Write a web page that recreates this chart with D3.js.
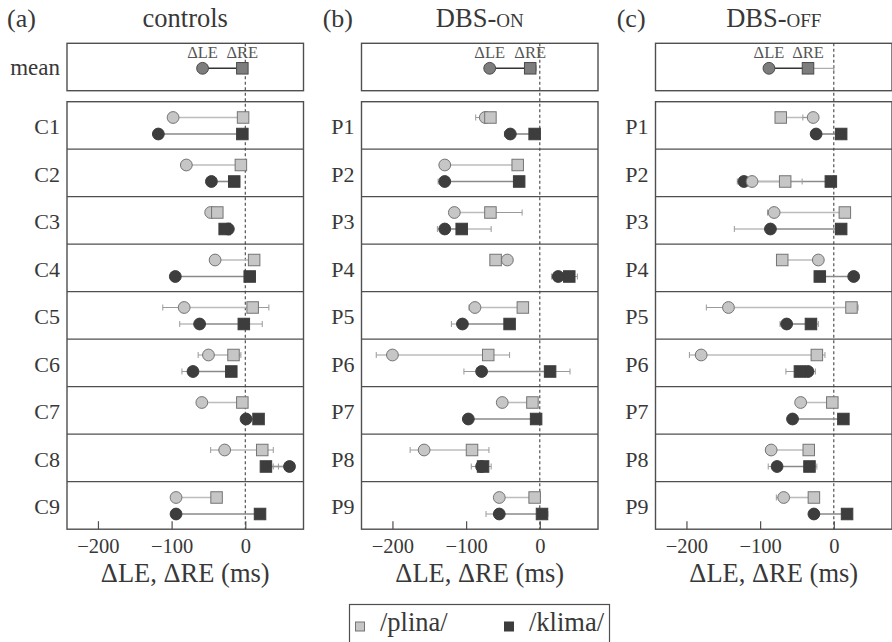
<!DOCTYPE html>
<html><head><meta charset="utf-8">
<script src="https://cdn.jsdelivr.net/npm/d3@7"></script>
<style>
body{margin:0;background:#fff}
svg{display:block}
svg text{font-family:"Liberation Serif","DejaVu Serif","Noto Serif",serif !important;fill:#383838}
</style>
</head><body>
<svg id="chart" width="892" height="642"></svg>
<script>
// ---------------- DATA ----------------
const panelTags = ["(a)", "(b)", "(c)"];
const panelTitleMain = ["controls", "DBS-", "DBS-"];
const panelTitleSmall = ["", "ON", "OFF"];
const controlSubjects = ["C1","C2","C3","C4","C5","C6","C7","C8","C9"];
const patientSubjects = ["P1","P2","P3","P4","P5","P6","P7","P8","P9"];
const tickValues = [-200, -100, 0];
const xDomain = [-242, 79];
const seriesNames = ["/plina/", "/klima/"];

// means: [ΔLE, ΔRE]; ΔLE errors extend left, ΔRE errors extend right
const meanLE = [-58, -68, -88];
const meanRE = [-4, -13, -35];
const meanLEerr = [2, 3, 3];
const meanREerr = [3, 8, 35];

// controls
const ctrlPlinaLE    = [-98, -80, -47, -41, -83, -50, -59, -28, -94];
const ctrlPlinaLEerr = [3, 3, 3, 3, 29, 14, 3, 19, 3];
const ctrlPlinaRE    = [-3, -6, -38, 12, 10, -16, -4, 23, -39];
const ctrlPlinaREerr = [3, 3, 3, 3, 22, 10, 3, 15, 5];
const ctrlKlimaLE    = [-118, -46, -23, -95, -62, -71, 1, 60, -94];
const ctrlKlimaLEerr = [5, 3, 3, 3, 27, 15, 3, 22, 4];
const ctrlKlimaRE    = [-4, -15, -28, 6, -2, -19, 18, 28, 20];
const ctrlKlimaREerr = [6, 3, 3, 4, 25, 3, 3, 17, 3];

// DBS-on
const onPlinaLE    = [-74, -129, -116, -44, -88, -200, -51, -157, -55];
const onPlinaLEerr = [13, 3, 3, 3, 8, 22, 3, 19, 3];
const onPlinaRE    = [-67, -30, -67, -60, -23, -70, -10, -92, -7];
const onPlinaREerr = [3, 3, 43, 3, 3, 29, 3, 23, 3];
const onKlimaLE    = [-40, -129, -129, 25, -105, -79, -97, -79, -55];
const onKlimaLEerr = [8, 9, 10, 9, 15, 24, 3, 14, 18];
const onKlimaRE    = [-7, -28, -106, 40, -41, 14, -5, -77, 3];
const onKlimaREerr = [3, 3, 40, 11, 3, 27, 3, 11, 8];

// DBS-off
const offPlinaLE    = [-28, -111, -81, -21, -143, -180, -45, -85, -68];
const offPlinaLEerr = [14, 3, 9, 3, 30, 16, 3, 7, 10];
const offPlinaRE    = [-72, -66, 15, -70, 24, -23, -2, -34, -27];
const offPlinaREerr = [3, 23, 3, 3, 9, 11, 3, 3, 3];
const offKlimaLE    = [-24, -122, -86, 27, -64, -35, -56, -77, -27];
const offKlimaLEerr = [3, 9, 49, 3, 9, 30, 3, 12, 3];
const offKlimaRE    = [10, -4, 10, -19, -31, -46, 13, -33, 18];
const offKlimaREerr = [3, 3, 3, 3, 10, 21, 3, 10, 3];

// lane each /plina/ row sits on (P2 in DBS-off shares the /klima/ lane)
const ctrlPlinaLane = ["upper","upper","upper","upper","upper","upper","upper","upper","upper"];
const onPlinaLane   = ["upper","upper","upper","upper","upper","upper","upper","upper","upper"];
const offPlinaLane  = ["upper","lower","upper","upper","upper","upper","upper","upper","upper"];

// ---------------- BUILD ----------------
const panels = [
  {subjects: controlSubjects, pLE: ctrlPlinaLE, pLEe: ctrlPlinaLEerr, pRE: ctrlPlinaRE, pREe: ctrlPlinaREerr,
   kLE: ctrlKlimaLE, kLEe: ctrlKlimaLEerr, kRE: ctrlKlimaRE, kREe: ctrlKlimaREerr, lane: ctrlPlinaLane},
  {subjects: patientSubjects, pLE: onPlinaLE, pLEe: onPlinaLEerr, pRE: onPlinaRE, pREe: onPlinaREerr,
   kLE: onKlimaLE, kLEe: onKlimaLEerr, kRE: onKlimaRE, kREe: onKlimaREerr, lane: onPlinaLane},
  {subjects: patientSubjects, pLE: offPlinaLE, pLEe: offPlinaLEerr, pRE: offPlinaRE, pREe: offPlinaREerr,
   kLE: offKlimaLE, kLEe: offKlimaLEerr, kRE: offKlimaRE, kREe: offKlimaREerr, lane: offPlinaLane}
];

const FONT = "Liberation Serif, DejaVu Serif, serif";
const svg = d3.select("#chart").attr("font-family", FONT);
const panelLeft = [67, 361.5, 655.5];
const panelW = 236.5;
const meanTop = 43.3, meanH = 47.4;
const subjTop = 101.7, rowH = 47.5;
const subjBottom = subjTop + 9 * rowH;

const styles = {
  plina: {fill: "#c6c6c6", stroke: "#747474", line: "#bcbcbc"},
  klima: {fill: "#3d3d3d", stroke: "#3d3d3d", line: "#8a8a8a"},
  mean:  {fill: "#7d7d7d", stroke: "#4a4a4a", line: "#333"}
};
const R = 5.9, S = 11.5;
const boxStroke = "#4f4f4f";
const errColor = "#9a9a9a";

function whisker(g, x, y, v, e, dir) {
  const x0 = x(v), x1 = x(v + dir * e);
  g.append("line").attr("x1", x0).attr("x2", x1).attr("y1", y).attr("y2", y)
    .attr("stroke", errColor).attr("stroke-width", 1);
  g.append("line").attr("x1", x1).attr("x2", x1).attr("y1", y - 3).attr("y2", y + 3)
    .attr("stroke", errColor).attr("stroke-width", 1);
}
function drawPair(g, x, y, le, lee, re, ree, st) {
  g.append("line").attr("x1", x(le)).attr("x2", x(re)).attr("y1", y).attr("y2", y)
    .attr("stroke", st.line).attr("stroke-width", 1.6);
  whisker(g, x, y, le, lee, -1);
  whisker(g, x, y, re, ree, +1);
}
function drawMarkers(g, x, y, le, re, st) {
  g.append("circle").attr("cx", x(le)).attr("cy", y).attr("r", R)
    .attr("fill", st.fill).attr("stroke", st.stroke).attr("stroke-width", 1);
  g.append("rect").attr("x", x(re) - S / 2).attr("y", y - S / 2).attr("width", S).attr("height", S)
    .attr("fill", st.fill).attr("stroke", st.stroke).attr("stroke-width", 1);
}

panels.forEach((P, pi) => {
  const L = panelLeft[pi];
  const x = d3.scaleLinear().domain(xDomain).range([L, L + panelW]);
  const yRow = d3.scaleBand().domain(P.subjects).range([subjTop, subjBottom]).padding(0);
  const lane = d3.scalePoint().domain(["upper", "lower"]).range([15.8, 32.3]);
  const g = svg.append("g");

  // tag + title
  g.append("text").attr("x", [7, 322.7, 616.7][pi]).attr("y", 27).attr("font-size", 26).text(panelTags[pi]);
  const t = g.append("text").attr("x", L + panelW / 2).attr("y", 27).attr("font-size", 26.5)
    .attr("text-anchor", "middle").text(panelTitleMain[pi]);
  if (panelTitleSmall[pi]) t.append("tspan").attr("font-size", 19).text(panelTitleSmall[pi]);

  // mean box
  g.append("rect").attr("x", L).attr("y", meanTop).attr("width", panelW).attr("height", meanH)
    .attr("fill", "none").attr("stroke", boxStroke).attr("stroke-width", 1.4);
  // subject box
  g.append("rect").attr("x", L).attr("y", subjTop).attr("width", panelW).attr("height", subjBottom - subjTop)
    .attr("fill", "none").attr("stroke", boxStroke).attr("stroke-width", 1.4);
  P.subjects.slice(1).forEach(s => {
    g.append("line").attr("x1", L).attr("x2", L + panelW).attr("y1", yRow(s)).attr("y2", yRow(s))
      .attr("stroke", boxStroke).attr("stroke-width", 1.2);
  });

  // zero dashed line
  g.append("line").attr("x1", x(0)).attr("x2", x(0)).attr("y1", meanTop).attr("y2", subjBottom)
    .attr("stroke", "#444").attr("stroke-width", 1.1).attr("stroke-dasharray", "3,2.5");

  // axis
  const ax = g.append("g").attr("transform", `translate(0,${subjBottom})`)
    .call(d3.axisBottom(x).tickValues(tickValues).tickSize(-8).tickPadding(9));
  ax.attr("font-family", FONT).attr("font-size", 20.5);
  ax.select(".domain").remove();
  ax.selectAll(".tick line").attr("stroke", boxStroke).attr("stroke-width", 1.2);
  ax.selectAll(".tick text").attr("fill", "#383838");
  g.append("text").attr("x", L + panelW / 2).attr("y", 582).attr("font-size", 26.5)
    .attr("text-anchor", "middle").text("ΔLE, ΔRE (ms)");

  // mean row
  const ym = meanTop + 25;
  if (pi === 0) g.append("text").attr("x", L - 7).attr("y", 75).attr("font-size", 23)
    .attr("text-anchor", "end").text("mean");
  drawPair(g, x, ym, meanLE[pi], meanLEerr[pi], meanRE[pi], meanREerr[pi], styles.mean);
  drawMarkers(g, x, ym, meanLE[pi], meanRE[pi], styles.mean);
  g.append("text").attr("x", x(meanLE[pi])).attr("y", 58).attr("font-size", 16.5)
    .attr("text-anchor", "middle").style("fill", "#555").text("ΔLE");
  g.append("text").attr("x", x(meanRE[pi])).attr("y", 58).attr("font-size", 16.5)
    .attr("text-anchor", "middle").style("fill", "#555").text("ΔRE");

  // subject rows
  P.subjects.forEach((s, i) => {
    const top = yRow(s);
    g.append("text").attr("x", L - 7).attr("y", top + 32.5).attr("font-size", 22)
      .attr("text-anchor", "end").text(s);
    const yp = top + lane(P.lane[i]);
    const yk = top + lane("lower");
    drawPair(g, x, yk, P.kLE[i], P.kLEe[i], P.kRE[i], P.kREe[i], styles.klima);
    drawPair(g, x, yp, P.pLE[i], P.pLEe[i], P.pRE[i], P.pREe[i], styles.plina);
    drawMarkers(g, x, yk, P.kLE[i], P.kRE[i], styles.klima);
    drawMarkers(g, x, yp, P.pLE[i], P.pRE[i], styles.plina);
  });
});

// legend
const lg = svg.append("g");
lg.append("rect").attr("x", 349.5).attr("y", 604.5).attr("width", 260).attr("height", 50)
  .attr("fill", "none").attr("stroke", boxStroke).attr("stroke-width", 1.2);
const legendX = [355.5, 504.5];
const legendStyles = [styles.plina, styles.klima];
seriesNames.forEach((n, i) => {
  lg.append("rect").attr("x", legendX[i]).attr("y", 622).attr("width", 9).attr("height", 9)
    .attr("fill", legendStyles[i].fill).attr("stroke", legendStyles[i].stroke).attr("stroke-width", 1);
  lg.append("text").attr("x", legendX[i] + 24.5).attr("y", 631).attr("font-size", 26.5).text(n);
});
</script>
</body></html>
